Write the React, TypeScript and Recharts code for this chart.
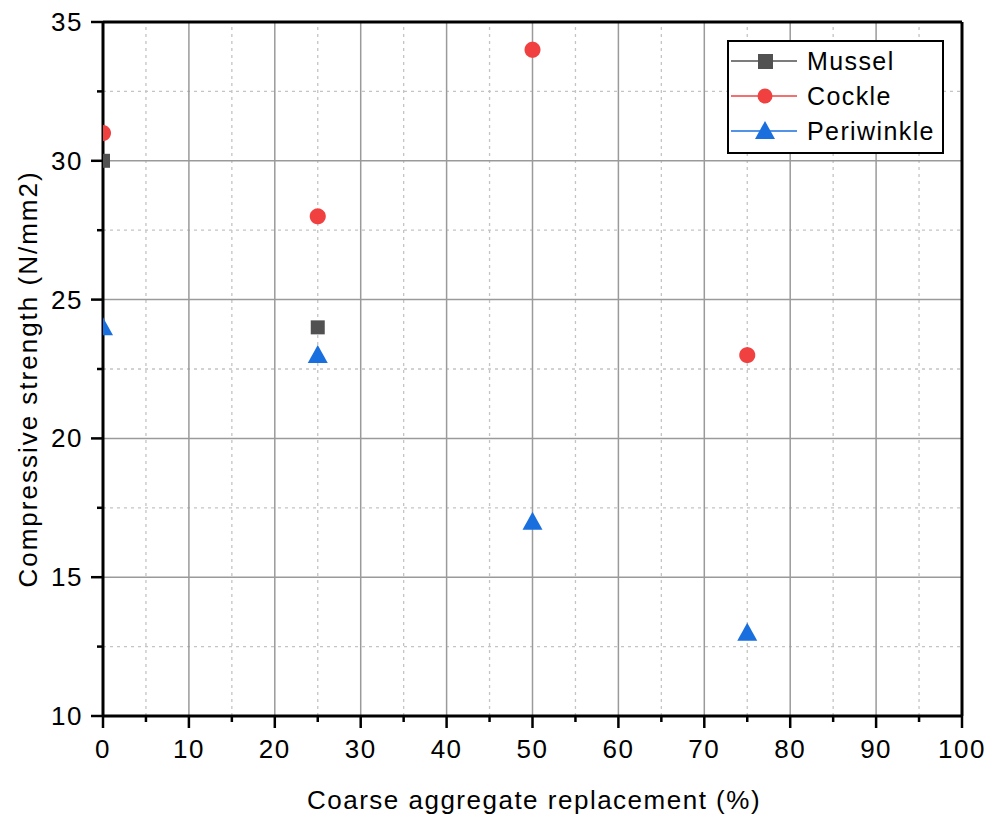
import React from 'react';
import { ScatterChart, Scatter, XAxis, YAxis, ReferenceLine, Label } from 'recharts';

const replacementPct = [0, 25, 50, 75];
const musselStrength = [30, 24];
const cockleStrength = [31, 28, 34, 23];
const periwinkleStrength = [24, 23, 17, 13];

const xTicks = [0, 5, 10, 15, 20, 25, 30, 35, 40, 45, 50, 55, 60, 65, 70, 75, 80, 85, 90, 95, 100];
const yTicks = [10, 12.5, 15, 17.5, 20, 22.5, 25, 27.5, 30, 32.5, 35];
const xMajorGrid = [10, 20, 30, 40, 50, 60, 70, 80, 90];
const xMinorGrid = [5, 15, 25, 35, 45, 55, 65, 75, 85, 95];
const yMajorGrid = [15, 20, 25, 30];
const yMinorGrid = [12.5, 17.5, 22.5, 27.5, 32.5];

const COLORS = { mussel: '#515151', cockle: '#F14040', periwinkle: '#1A6FDF' };
const FONT = '"Liberation Sans", Arial, sans-serif';

// chart layout
const CHART_W = 992;
const CHART_H = 820;
const M_TOP = 22;
const M_RIGHT = 30;
const Y_AXIS_W = 103;
const X_AXIS_H = 104;
const PLOT_LEFT = Y_AXIS_W;

const toPoints = (vals: number[]) => vals.map((v, i) => ({ x: replacementPct[i], y: v }));
const musselData = toPoints(musselStrength);
const cockleData = toPoints(cockleStrength);
const periwinkleData = toPoints(periwinkleStrength);

type Pt = [number, number];
// clip polygon to the half-plane x >= PLOT_LEFT (markers are cut at the plot frame)
const clipLeft = (pts: Pt[]): Pt[] => {
  const out: Pt[] = [];
  const inside = (p: Pt) => p[0] >= PLOT_LEFT;
  const inter = (a: Pt, b: Pt): Pt => {
    const t = (PLOT_LEFT - a[0]) / (b[0] - a[0]);
    return [PLOT_LEFT, a[1] + t * (b[1] - a[1])];
  };
  for (let i = 0; i < pts.length; i++) {
    const a = pts[i];
    const b = pts[(i + 1) % pts.length];
    if (inside(a) && inside(b)) out.push(b);
    else if (inside(a) && !inside(b)) out.push(inter(a, b));
    else if (!inside(a) && inside(b)) {
      out.push(inter(a, b));
      out.push(b);
    }
  }
  return out;
};
const toStr = (pts: Pt[]) => pts.map((p) => `${p[0].toFixed(2)},${p[1].toFixed(2)}`).join(' ');

const SquareShape = (p: any) => {
  const s = 7;
  const pts: Pt[] = [
    [p.cx - s, p.cy - s],
    [p.cx + s, p.cy - s],
    [p.cx + s, p.cy + s],
    [p.cx - s, p.cy + s],
  ];
  return <polygon points={toStr(clipLeft(pts))} fill={COLORS.mussel} />;
};
const CircleShape = (p: any) => {
  const r = 8;
  const pts: Pt[] = [];
  for (let i = 0; i < 48; i++) {
    const a = (i / 48) * Math.PI * 2;
    pts.push([p.cx + r * Math.cos(a), p.cy + r * Math.sin(a)]);
  }
  return <polygon points={toStr(clipLeft(pts))} fill={COLORS.cockle} />;
};
const TriangleShape = (p: any) => {
  const pts: Pt[] = [
    [p.cx, p.cy - 10],
    [p.cx + 10, p.cy + 8],
    [p.cx - 10, p.cy + 8],
  ];
  return <polygon points={toStr(clipLeft(pts))} fill={COLORS.periwinkle} />;
};

const XTick = (props: any) => {
  const { x, y, payload } = props;
  const major = payload.value % 10 === 0;
  return (
    <g>
      <line x1={x} x2={x} y1={y} y2={y + (major ? 12 : 6)} stroke="#000" strokeWidth={2.5} />
      {major && (
        <text x={x} y={y + 42} textAnchor="middle" fontFamily={FONT} fontSize={26} letterSpacing={1.5} fill="#000">
          {payload.value}
        </text>
      )}
    </g>
  );
};

const YTick = (props: any) => {
  const { x, y, payload } = props;
  const major = (payload.value - 10) % 5 === 0;
  return (
    <g>
      <line x1={x - (major ? 12 : 6)} x2={x} y1={y} y2={y} stroke="#000" strokeWidth={2.5} />
      {major && (
        <text x={x - 20} y={y + 9} textAnchor="end" fontFamily={FONT} fontSize={26} letterSpacing={1.5} fill="#000">
          {payload.value}
        </text>
      )}
    </g>
  );
};

const LegendBox = () => (
  <svg style={{ position: 'absolute', left: 727, top: 40 }} width={217} height={114}>
    <rect x={1} y={1} width={215} height={112} fill="#fff" stroke="#000" strokeWidth={2} />
    <line x1={4} x2={70} y1={21} y2={21} stroke={COLORS.mussel} strokeWidth={1.5} />
    <rect x={31} y={14} width={15} height={15} fill={COLORS.mussel} />
    <text x={80} y={30} fontFamily={FONT} fontSize={25} letterSpacing={1.4} fill="#000">Mussel</text>
    <line x1={4} x2={70} y1={56} y2={56} stroke={COLORS.cockle} strokeWidth={1.5} />
    <circle cx={38} cy={56} r={7.5} fill={COLORS.cockle} />
    <text x={80} y={65} fontFamily={FONT} fontSize={25} letterSpacing={1.4} fill="#000">Cockle</text>
    <line x1={4} x2={70} y1={91} y2={91} stroke={COLORS.periwinkle} strokeWidth={1.5} />
    <polygon points="38,81 48,99 28,99" fill={COLORS.periwinkle} />
    <text x={80} y={100} fontFamily={FONT} fontSize={25} letterSpacing={1.4} fill="#000">Periwinkle</text>
  </svg>
);

export default function App() {
  return (
    <div style={{ position: 'absolute', left: 0, top: 0, width: CHART_W, height: CHART_H, background: '#fff' }}>
      <ScatterChart width={CHART_W} height={CHART_H} margin={{ top: M_TOP, right: M_RIGHT, bottom: 0, left: 0 }}>
        <XAxis
          type="number"
          dataKey="x"
          domain={[0, 100]}
          ticks={xTicks}
          interval={0}
          height={X_AXIS_H}
          tickSize={0}
          tickMargin={0}
          tick={<XTick />}
          tickLine={false}
          axisLine={{ stroke: '#000', strokeWidth: 3 }}
        >
          <Label
            content={() => (
              <text x={534} y={809} textAnchor="middle" fontFamily={FONT} fontSize={26} letterSpacing={1.5} fill="#000">
                Coarse aggregate replacement (%)
              </text>
            )}
          />
        </XAxis>
        <YAxis
          type="number"
          dataKey="y"
          domain={[10, 35]}
          ticks={yTicks}
          interval={0}
          width={Y_AXIS_W}
          tickSize={0}
          tickMargin={0}
          tick={<YTick />}
          tickLine={false}
          axisLine={{ stroke: '#000', strokeWidth: 3 }}
        >
          <Label
            content={() => (
              <text
                x={37}
                y={379}
                transform="rotate(-90, 37, 379)"
                textAnchor="middle"
                fontFamily={FONT}
                fontSize={26}
                letterSpacing={2}
                fill="#000"
              >
                Compressive strength (N/mm2)
              </text>
            )}
          />
        </YAxis>
        {xMinorGrid.map((v) => (
          <ReferenceLine key={'xm' + v} x={v} stroke="#c4c4c4" strokeWidth={1.3} strokeDasharray="3 4" />
        ))}
        {yMinorGrid.map((v) => (
          <ReferenceLine key={'ym' + v} y={v} stroke="#c4c4c4" strokeWidth={1.3} strokeDasharray="3 4" />
        ))}
        {xMajorGrid.map((v) => (
          <ReferenceLine key={'xM' + v} x={v} stroke="#9a9a9a" strokeWidth={1.5} />
        ))}
        {yMajorGrid.map((v) => (
          <ReferenceLine key={'yM' + v} y={v} stroke="#9a9a9a" strokeWidth={1.5} />
        ))}
        <ReferenceLine y={35} stroke="#000" strokeWidth={3} />
        <ReferenceLine x={100} stroke="#000" strokeWidth={3} />
        <Scatter name="Mussel" data={musselData} shape={SquareShape} isAnimationActive={false} />
        <Scatter name="Cockle" data={cockleData} shape={CircleShape} isAnimationActive={false} />
        <Scatter name="Periwinkle" data={periwinkleData} shape={TriangleShape} isAnimationActive={false} />
      </ScatterChart>
      <LegendBox />
    </div>
  );
}
